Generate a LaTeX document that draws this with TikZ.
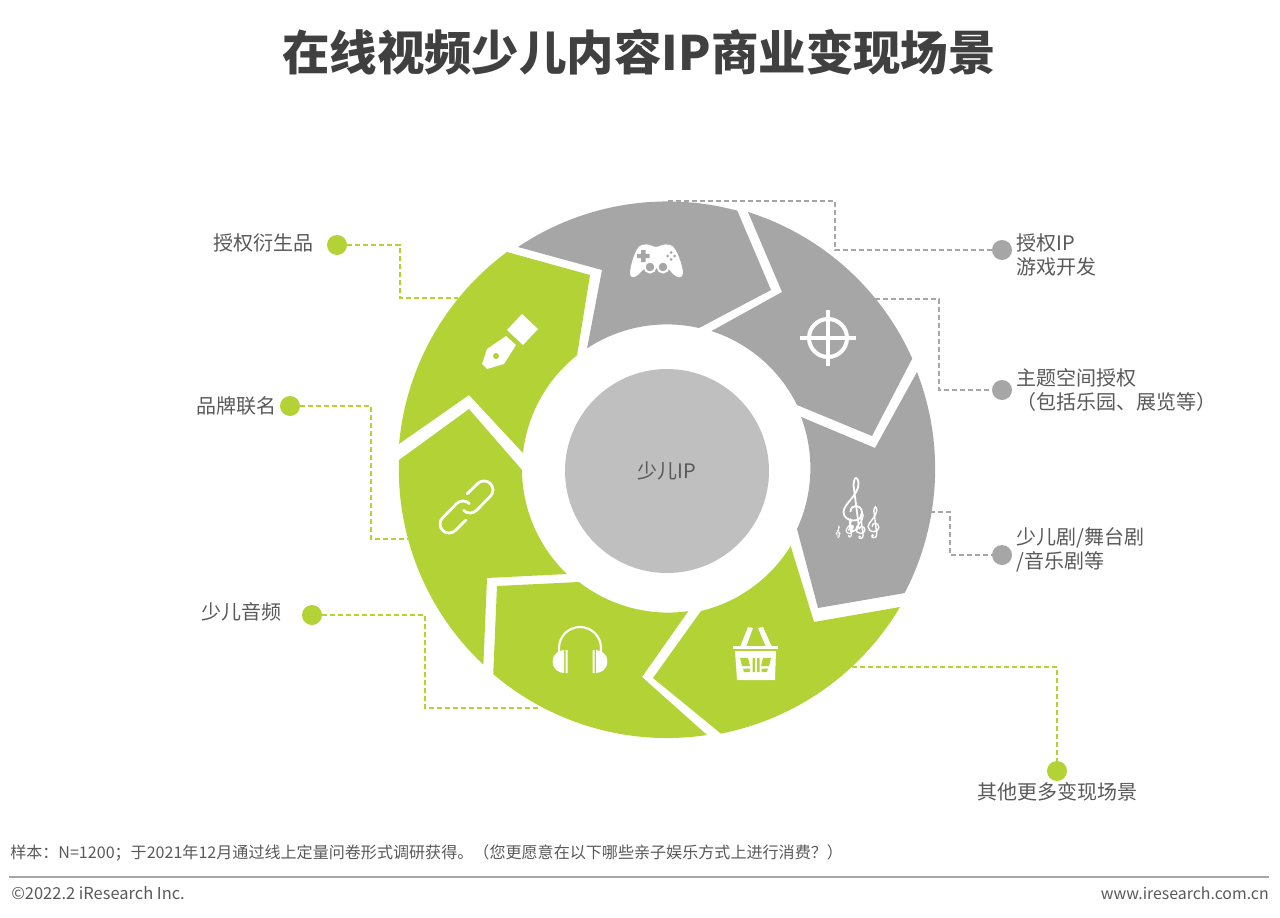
\documentclass[tikz,border=0pt]{standalone}
\usepackage{fontspec}
\setmainfont{Noto Sans CJK SC}
\usepackage{tikz}
\usetikzlibrary{calc,positioning}
\definecolor{verde}{HTML}{B2D235}
\definecolor{gris}{HTML}{A6A6A6}
\definecolor{griscore}{HTML}{BFBFBF}
\definecolor{gristext}{HTML}{595959}
\tikzset{
    seggreen/.style={fill=verde,draw=none},
    seggray/.style={fill=gris,draw=none},
    dotgreen/.style={circle,fill=verde,minimum size=15pt,inner sep=0pt},
    dotgray/.style={circle,fill=gris,minimum size=15pt,inner sep=0pt},
    dashgreen/.style={draw=verde,line width=1.35pt,dash pattern=on 3.75pt off 2.25pt},
    dashgray/.style={draw=gris,line width=1.35pt,dash pattern=on 3.75pt off 2.25pt},
    lbl/.style={text=gristext,inner sep=0pt,align=left,font=\fontsize{15}{18}\selectfont},
    iconfill/.style={fill=white,draw=none},
    clefmark/.pic={
        \draw [white] (-3,68) .. controls (-3,60) and (2,56) .. (7,56) .. controls (15,56) and (20,62) .. (20,70)
            .. controls (20,80) and (12,85) .. (3,85) .. controls (-8,85) and (-17,78) .. (-17,68)
            .. controls (-17,52) and (13,34) .. (13,12) .. controls (13,4) and (10,0) .. (8,0)
            .. controls (5,0) and (3,8) .. (3,14) -- (13,92) .. controls (14,102) and (8,106) .. (3,106)
            .. controls (-3,106) and (-5,102) .. (-4,98);
        \fill [white] (-1,98) circle (5);
    },
}
\begin{document}
\begin{tikzpicture}[x=.75pt,y=-.75pt]
    \useasboundingbox (0,0) rectangle (1280,917);

    \node [font=\fontsize{35.6}{40}\selectfont\bfseries,text=black!75] (title) at (639,52) {在线视频少儿内容IP商业变现场景};

    % ring
    \path [seggray] (518,247) arc[start angle=123.9,end angle=74.9,radius=201pt] -- (771,290) -- (699,328)
        arc[start angle=77.2,end angle=123.4,radius=108.75pt] -- (602,270) -- cycle;
    \path [seggray] (748,212) arc[start angle=72.5,end angle=24,radius=201pt] -- (872,436) -- (797,405)
        arc[start angle=26.2,end angle=72.1,radius=108.75pt] -- (782,292) -- cycle;
    \path [seggray] (917,372) arc[start angle=21.2,end angle=-27.6,radius=201pt] -- (818,608) -- (797,529)
        arc[start angle=-24.8,end angle=20.7,radius=108.75pt] -- (875,448) -- cycle;
    \path [seggreen] (900,607) arc[start angle=-30.6,end angle=-78.9,radius=201pt] -- (653,678) -- (701,611)
        arc[start angle=-76.5,end angle=-31.6,radius=108.75pt] -- (814,622) -- cycle;
    \path [seggreen] (707,735) arc[start angle=-81.4,end angle=-130.4,radius=201pt] -- (497,586) -- (579,582)
        arc[start angle=-127.9,end angle=-82,radius=108.75pt] -- (642,677) -- cycle;
    \path [seggreen] (399,460) arc[start angle=178,end angle=226.8,radius=201pt] -- (487,578) -- (567,574)
        arc[start angle=226.4,end angle=180.4,radius=108.75pt] -- (469,409) -- cycle;
    \path [seggreen] (507,252) arc[start angle=126.4,end angle=174.9,radius=201pt] -- (469,395) -- (523,453)
        arc[start angle=173.7,end angle=128.4,radius=108.75pt] -- (590,275) -- cycle;

    \node [circle,fill=griscore,minimum size=153pt,inner sep=0pt,lbl] (core) at (667,471) {少儿IP};

    % game pad
    \path [iconfill] (642,245) .. controls (650,243) and (652,247) .. (656,247) .. controls (660,247) and (662,243) .. (670,245)
        .. controls (677,246) and (683,268) .. (683,273) .. controls (683,279) and (677,278) .. (673,274)
        .. controls (670,271) and (669,268) .. (666,268) -- (647,268) .. controls (644,268) and (642,271) .. (639,274)
        .. controls (635,278) and (630,279) .. (630,273) .. controls (630,268) and (635,246) .. (642,245) -- cycle;
    \path [fill=gris] (641,250) rectangle (645.5,262) (637,253.8) rectangle (649.5,258.2);
    \path [fill=gris] (671,252.5) circle (1.5) (671,259.5) circle (1.5) (667.5,256) circle (1.5) (674.5,256) circle (1.5);
    \path [fill=gris,draw=white,line width=1.5pt] (650,267) circle (5.5) (663,267) circle (5.5);

    % crosshair
    \draw [white,line width=3pt] (828,338) circle (19);
    \draw [white,line width=3.2pt] (800,338) -- (856,338) (828,310) -- (828,366);

    % music
    \draw (852,478) pic[scale=.5,line width=1.35pt] {clefmark};
    \draw (873,507) pic[scale=.29,line width=1.05pt] {clefmark};
    \draw (860,513) pic[scale=.24,line width=1pt] {clefmark};
    \draw (849,519) pic[scale=.17,line width=.9pt] {clefmark};
    \draw (838,526) pic[scale=.11,line width=.5pt] {clefmark};

    % basket
    \path [iconfill] (748,627) -- (753,628) -- (746,647) -- (740,647) -- cycle;
    \path [iconfill] (763,627) -- (758,628) -- (766,647) -- (772,647) -- cycle;
    \path [iconfill] (733,646) rectangle (778,649);
    \path [iconfill] (735,651) -- (776,651) -- (775,680) -- (737,680) -- cycle;
    \path [fill=verde] (740,658) -- (748,658) -- (750,666) -- (742,666) -- cycle
        (743,668.5) -- (750,668.5) -- (750,672) -- (744,672) -- cycle
        (752.5,658) rectangle (755,672) (757,658) rectangle (759.5,672)
        (771,658) -- (763,658) -- (761,666) -- (769,666) -- cycle
        (768,668.5) -- (761.5,668.5) -- (761.5,672) -- (767,672) -- cycle;

    % headphones
    \draw [white,line width=1.6pt] (559,652) -- (559,648) arc[start angle=180,end angle=0,radius=15.75pt] -- (601,652);
    \path [iconfill] (564,650) -- (564,673) arc[start angle=-90,end angle=-270,radius=8.6pt] -- cycle;
    \path [iconfill] (596,650) -- (596,673) arc[start angle=-90,end angle=90,radius=8.6pt] -- cycle;
    \path [iconfill] (565.5,650) rectangle (567.5,673) (592.5,650) rectangle (594.5,673);

    % link
    \draw [white,line width=2.1pt,line cap=round] (467,494) -- (477.6,483.6) arc[start angle=135,end angle=-45,radius=6.75pt] -- (476.4,510.4) arc[start angle=-45,end angle=-135,radius=6.75pt];
    \draw [white,line width=2.1pt,line cap=round] (466,520) -- (455.4,530.4) arc[start angle=-45,end angle=-225,radius=6.75pt] -- (456.6,503.6) arc[start angle=135,end angle=45,radius=6.75pt];

    % pen
    \path [iconfill] (522,314) -- (538,329) -- (523,345) -- (507,330) -- cycle;
    \path [iconfill] (506,336) -- (516,345) -- (504,364) -- (487,369) -- (482,364) -- (487,349) -- cycle;
    \path [fill=verde] (496,356) circle (3);

    % left labels
    \node [dotgreen] (dotpen) at (337,245) {};
    \node [lbl,left=9.75pt of dotpen,yshift=1.5pt] (lblpen) {授权衍生品};
    \coordinate (penbend) at (400,298);
    \coordinate (penend) at (458,298);
    \path [dashgreen] (dotpen) -| (penbend) -- (penend);

    \node [dotgreen] (dotlink) at (290,406) {};
    \node [lbl,left=2.5pt of dotlink] (lbllink) {品牌联名};
    \coordinate (linkbend) at (371,539);
    \coordinate (linkend) at (408,539);
    \path [dashgreen] (dotlink) -| (linkbend) -- (linkend);

    \node [dotgreen] (dotphones) at (312,615) {};
    \node [lbl,left=14.75pt of dotphones,yshift=2pt] (lblphones) {少儿音频};
    \coordinate (phonesbend) at (425,708);
    \coordinate (phonesend) at (538,708);
    \path [dashgreen] (dotphones) -| (phonesbend) -- (phonesend);

    \node [dotgreen] (dotbasket) at (1057,771) {};
    \node [lbl,below=.5pt of dotbasket] (lblbasket) {其他更多变现场景};
    \coordinate (basketend) at (852,667);
    \path [dashgreen] (basketend) -| (dotbasket);

    % right labels
    \node [dotgray] (dotgame) at (1002,250) {};
    \node [lbl,right=3pt of dotgame,yshift=-3.75pt] (lblgame) {授权IP\\游戏开发};
    \coordinate (gameend) at (668,201);
    \coordinate (gamebend) at (835,201);
    \path [dashgray] (gameend) -- (gamebend) |- (dotgame);

    \node [dotgray] (dotcross) at (1002,390) {};
    \node [lbl,right=3pt of dotcross] (lblcross) {主题空间授权\\（包括乐园、展览等）};
    \coordinate (crossend) at (875,299);
    \coordinate (crossbend) at (939,299);
    \path [dashgray] (crossend) -- (crossbend) |- (dotcross);

    \node [dotgray] (dotmusic) at (1002,555) {};
    \node [lbl,right=3pt of dotmusic,yshift=3.75pt] (lblmusic) {少儿剧/舞台剧\\/音乐剧等};
    \coordinate (musicend) at (930,512);
    \coordinate (musicbend) at (950,512);
    \path [dashgray] (musicend) -- (musicbend) |- (dotmusic);

    % footer
    \node [lbl,anchor=west,font=\fontsize{12.05}{14}\selectfont] (note) at (10,853) {样本：N=1200；于2021年12月通过线上定量问卷形式调研获得。（您更愿意在以下哪些亲子娱乐方式上进行消费？）};
    \coordinate (ruleleft) at (9,877);
    \coordinate (ruleright) at (1269,877);
    \draw [gris,line width=1.1pt] (ruleleft) -- (ruleright);
    \node [lbl,anchor=west,font=\fontsize{12.35}{14}\selectfont] (copy) at (11,893) {©2022.2 iResearch Inc.};
    \node [lbl,anchor=east,font=\fontsize{11.9}{14}\selectfont] (web) at (1269,893) {www.iresearch.com.cn};
\end{tikzpicture}
\end{document}
